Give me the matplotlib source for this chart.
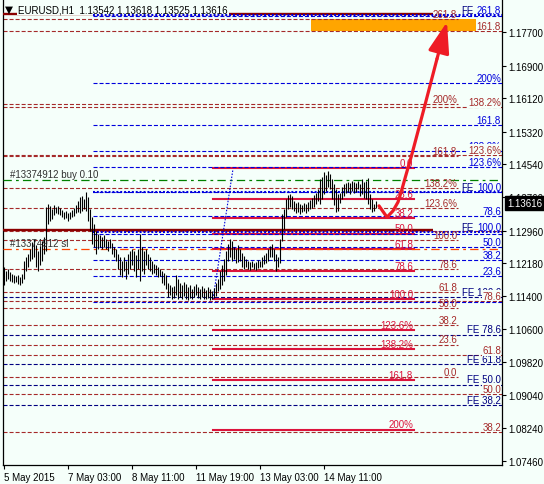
import matplotlib
matplotlib.use("Agg")
import matplotlib.pyplot as plt
from matplotlib.patches import Rectangle, FancyArrowPatch
from matplotlib.transforms import blended_transform_factory

plt.rcParams["font.family"] = ["Liberation Sans", "DejaVu Sans"]
plt.rcParams["font.size"] = 7
plt.rcParams["lines.scale_dashes"] = False

# ---- data ----
symbol = "EURUSD,H1"
last_ohlc = [1.13542, 1.13618, 1.13525, 1.13616]
order_id = "#13374912"

high = [
    1.1209, 1.1200, 1.1204, 1.1197, 1.1192, 1.1190, 1.1188, 1.1190, 1.1185, 1.1192,
    1.1223, 1.1233, 1.1240, 1.1252, 1.1269, 1.1276, 1.1262, 1.1247, 1.1259, 1.1271,
    1.1281, 1.1352, 1.1359, 1.1355, 1.1348, 1.1357, 1.1352, 1.1355, 1.1350, 1.1345,
    1.1340, 1.1343, 1.1338, 1.1340, 1.1345, 1.1350, 1.1357, 1.1367, 1.1376, 1.1379,
    1.1371, 1.1388, 1.1376, 1.1348, 1.1328, 1.1312, 1.1295, 1.1288, 1.1285, 1.1281,
    1.1285, 1.1276, 1.1271, 1.1276, 1.1266, 1.1257, 1.1252, 1.1240, 1.1233, 1.1223,
    1.1233, 1.1223, 1.1240, 1.1247, 1.1252, 1.1247, 1.1238, 1.1252, 1.1288, 1.1257,
    1.1247, 1.1252, 1.1240, 1.1233, 1.1223, 1.1216, 1.1214, 1.1209, 1.1204, 1.1200,
    1.1195, 1.1190, 1.1171, 1.1166, 1.1161, 1.1164, 1.1190, 1.1180, 1.1171, 1.1166,
    1.1173, 1.1169, 1.1161, 1.1166, 1.1157, 1.1164, 1.1169, 1.1161, 1.1157, 1.1164,
    1.1159, 1.1154, 1.1161, 1.1157, 1.1152, 1.1159, 1.1171, 1.1180, 1.1200, 1.1214,
    1.1228, 1.1247, 1.1264, 1.1276, 1.1271, 1.1257, 1.1252, 1.1262, 1.1252, 1.1243,
    1.1235, 1.1228, 1.1223, 1.1221, 1.1223, 1.1219, 1.1221, 1.1226, 1.1223, 1.1233,
    1.1238, 1.1243, 1.1252, 1.1259, 1.1264, 1.1252, 1.1240, 1.1233, 1.1276, 1.1336,
    1.1348, 1.1371, 1.1381, 1.1383, 1.1379, 1.1367, 1.1362, 1.1364, 1.1359, 1.1357,
    1.1362, 1.1359, 1.1364, 1.1369, 1.1374, 1.1381, 1.1386, 1.1395, 1.1419, 1.1424,
    1.1436, 1.1429, 1.1438, 1.1431, 1.1419, 1.1407, 1.1395, 1.1383, 1.1386, 1.1400,
    1.1407, 1.1410, 1.1412, 1.1410, 1.1414, 1.1412, 1.1410, 1.1414, 1.1407, 1.1419,
    1.1412, 1.1414, 1.1422, 1.1383, 1.1371, 1.1359, 1.1367,
]
low = [
    1.1166, 1.1176, 1.1180, 1.1176, 1.1173, 1.1171, 1.1173, 1.1169, 1.1166, 1.1171,
    1.1180, 1.1200, 1.1209, 1.1223, 1.1228, 1.1233, 1.1209, 1.1200, 1.1214, 1.1223,
    1.1240, 1.1247, 1.1312, 1.1319, 1.1324, 1.1333, 1.1338, 1.1336, 1.1333, 1.1328,
    1.1324, 1.1326, 1.1319, 1.1324, 1.1328, 1.1331, 1.1338, 1.1340, 1.1338, 1.1343,
    1.1348, 1.1343, 1.1319, 1.1295, 1.1264, 1.1257, 1.1240, 1.1252, 1.1257, 1.1252,
    1.1257, 1.1252, 1.1247, 1.1254, 1.1240, 1.1233, 1.1223, 1.1204, 1.1190, 1.1185,
    1.1200, 1.1180, 1.1192, 1.1204, 1.1214, 1.1200, 1.1185, 1.1204, 1.1176, 1.1200,
    1.1192, 1.1214, 1.1204, 1.1200, 1.1192, 1.1195, 1.1190, 1.1185, 1.1188, 1.1171,
    1.1166, 1.1157, 1.1138, 1.1142, 1.1133, 1.1135, 1.1142, 1.1133, 1.1138, 1.1133,
    1.1140, 1.1133, 1.1130, 1.1135, 1.1133, 1.1138, 1.1142, 1.1135, 1.1133, 1.1138,
    1.1133, 1.1133, 1.1135, 1.1130, 1.1133, 1.1135, 1.1140, 1.1152, 1.1157, 1.1166,
    1.1176, 1.1190, 1.1223, 1.1233, 1.1223, 1.1228, 1.1219, 1.1221, 1.1223, 1.1209,
    1.1204, 1.1209, 1.1204, 1.1202, 1.1209, 1.1204, 1.1202, 1.1207, 1.1209, 1.1209,
    1.1216, 1.1219, 1.1223, 1.1233, 1.1233, 1.1223, 1.1200, 1.1209, 1.1219, 1.1271,
    1.1300, 1.1328, 1.1348, 1.1352, 1.1348, 1.1343, 1.1338, 1.1340, 1.1336, 1.1340,
    1.1343, 1.1338, 1.1343, 1.1348, 1.1350, 1.1352, 1.1359, 1.1367, 1.1359, 1.1371,
    1.1383, 1.1391, 1.1400, 1.1395, 1.1371, 1.1357, 1.1340, 1.1343, 1.1362, 1.1371,
    1.1379, 1.1386, 1.1388, 1.1383, 1.1391, 1.1386, 1.1388, 1.1395, 1.1379, 1.1383,
    1.1374, 1.1371, 1.1359, 1.1348, 1.1340, 1.1343, 1.1350,
]

date_labels = ["5 May 2015", "7 May 03:00", "8 May 11:00", "11 May 19:00", "13 May 03:00", "14 May 11:00"]
date_bars = [0, 32, 64, 96, 128, 160]
price_ticks = [1.17700, 1.16900, 1.16120, 1.15320, 1.14540, 1.13760, 1.12960,
               1.12180, 1.11400, 1.10600, 1.09820, 1.09040, 1.08240, 1.07460]

fib_ratios = [0, 23.6, 38.2, 50, 61.8, 78.6, 100, 123.6, 138.2, 161.8, 200, 261.8]
fib_names = ["0.0", "23.6", "38.2", "50.0", "61.8", "78.6", "100.0", "123.6%", "138.2%", "161.8", "200%", "261.8"]

# 0% and 100% anchor prices of each fibo object
red_fib = [1.1445, 1.1133]
brown_fib = [1.0947, 1.1273]
brown_fib2 = [1.0519, 1.1294]
blue_fib = [1.1126, 1.1387]
fe_low = [1.0720, 1.1137]
fe_ratios = [38.2, 50, 61.8, 78.6, 100]
fe_100 = [1.1811, 1.1388, 1.1293]
fe_100_values = ["", "", "100.0"]   # numbers hidden under the blue fibo labels
support = [1.1813, 1.1297]
buy_price = 1.1417
sl_price = 1.1252
target_zone = [1.1772, 1.1801]

fe_trend_x = [104.5, 114.5]
fe_trend_y = [1.1133, 1.1443]
arrow_x = [187.5, 191.5, 194.5, 197, 199, 201, 204, 210.5, 216.5]
arrow_y = [1.1355, 1.1328, 1.1343, 1.1364, 1.1395, 1.1429, 1.1479, 1.1596, 1.1706]
arrow_tip = [221.5, 1.1794]

# ---- colours / styles ----
BG = "#F5FFFA"
BROWN = "#A52A2A"
BLUE = "#0000DD"
NAVY = "#000080"
CRIMSON = "#DC143C"
DASH = (0, (2.9, 1.45))

fig = plt.figure(figsize=(5.44, 4.85), dpi=100, facecolor=BG)
ax = fig.add_axes([3 / 544, 19 / 485, 499 / 544, 465 / 485], facecolor=BG)
ax.set_xlim(-0.5, 249)
ax.set_ylim(1.07364, 1.18464)


def level(anchor, ratio):
    return anchor[0] + ratio / 100 * (anchor[1] - anchor[0])


def draw_levels(prices, names, x0, x1, color, ls, lw, tcolor, z=2, box=False):
    for p, name in zip(prices, names):
        ax.plot([x0, x1], [p, p], color=color, ls=ls, lw=lw, zorder=z)
        if name:
            kw = {}
            if box:
                kw["bbox"] = dict(boxstyle="square,pad=0.05", fc=BG, ec="none")
            ax.annotate(name, xy=(x1 - 0.5, p), xytext=(0, 1.5), textcoords="offset points",
                        ha="right", va="baseline", color=tcolor, fontsize=7, zorder=8 if box else 7, **kw)


# target zone
ax.add_patch(Rectangle((153.5, target_zone[0]), 236 - 153.5, target_zone[1] - target_zone[0],
                       fc="#FFA500", ec="none", zorder=1))

# thick dark red horizontal lines
for p in support:
    ax.plot([-0.5, 214.5], [p, p], color="#8B0000", lw=1.7, zorder=3, solid_capstyle="butt")

# brown fibo (left anchor off-screen), labels at x=457
draw_levels([level(brown_fib, r) for r in fib_ratios], fib_names, -0.5, 227, BROWN, DASH, 0.8, BROWN)

# second brown fibo to the right edge
b2 = [38.2, 50, 61.8, 78.6, 100, 123.6, 138.2, 161.8]
b2_names = ["38.2", "50.0", "61.8", "78.6", "", "123.6%", "138.2%", "161.8"]
draw_levels([level(brown_fib2, r) for r in b2], b2_names, -0.5, 249, BROWN, DASH, 0.8, BROWN, box=True)

# lower fibo expansion
draw_levels([level(fe_low, r) for r in fe_ratios],
            ["FE %.1f" % r for r in fe_ratios], -0.5, 249, NAVY, DASH, 0.8, NAVY)

# heavy dotted FE 100 lines: "FE" in navy, number in blue
draw_levels(fe_100, fe_100_values, 44.5, 249, BLUE, (0, (1.4, 1.4)), 1.5, BLUE, z=5)
for p in fe_100:
    ax.annotate("FE", xy=(248.5, p), xytext=(-19.5, 1.5), textcoords="offset points",
                ha="right", va="baseline", color=NAVY, fontsize=7, zorder=7)

# blue fibo
blue_names = ["" if n in ("0.0", "61.8") else n for n in fib_names]
draw_levels([level(blue_fib, r) for r in fib_ratios], blue_names, 44.5, 249, BLUE, DASH, 0.8, BLUE, z=5)

# red fibo (solid)
draw_levels([level(red_fib, r) for r in fib_ratios[:-1]], fib_names[:-1], 104.5, 205,
            CRIMSON, "-", 1.5, CRIMSON, z=4)

# order lines
ax.plot([-0.5, 249], [buy_price, buy_price], color="#008000", ls=(0, (6, 3, 2, 3)), lw=0.9, zorder=4)
ax.plot([-0.5, 249], [sl_price, sl_price], color="#FF4500", ls=(0, (6, 3, 2, 3)), lw=0.9, zorder=4)
ax.annotate(order_id + " buy 0.10", xy=(3, buy_price), xytext=(0, 2), textcoords="offset points",
            va="baseline", color="#303030", zorder=7)
ax.annotate(order_id + " sl", xy=(3, sl_price), xytext=(0, 2), textcoords="offset points",
            va="baseline", color="#303030", zorder=7)

# fibo expansion trend line
ax.plot(fe_trend_x, fe_trend_y, color=BLUE, ls=(0, (1.1, 1.1)), lw=0.8, zorder=5)

# price bars
ax.vlines(range(len(high)), low, high, color="black", lw=0.8, zorder=6)

# hand-drawn arrow
ax.plot(arrow_x, arrow_y, color="#EE1C25", lw=2.3, zorder=9, solid_capstyle="round",
        solid_joinstyle="round")
ax.add_patch(FancyArrowPatch((arrow_x[-1], arrow_y[-1]), tuple(arrow_tip),
                             arrowstyle="-|>,head_length=19,head_width=6.5", color="#EE1C25",
                             lw=2.3, shrinkA=0, shrinkB=0, zorder=9))

# header
ax.text(0.004, 0.974, "\u25bc", transform=ax.transAxes, fontsize=7.5, family="DejaVu Sans",
        va="baseline", color="black", zorder=9)
ax.text(0.030, 0.974, symbol + "  " + " ".join("%.5f" % v for v in last_ohlc),
        transform=ax.transAxes, va="baseline", color="black", zorder=4,
        bbox=dict(boxstyle="square,pad=0.1", fc=BG, ec="none"))

# axes
for side in ("left", "right", "bottom"):
    ax.spines[side].set_color("black")
    ax.spines[side].set_linewidth(0.9)
ax.spines["top"].set_visible(False)
ax.yaxis.tick_right()
ax.set_yticks(price_ticks)
ax.set_yticklabels(["%.5f" % p for p in price_ticks])
ax.tick_params(axis="y", direction="out", length=3, width=0.8, pad=1.5, labelsize=7)
ax.set_xticks(date_bars)
ax.set_xticklabels(date_labels, ha="left")
ax.tick_params(axis="x", direction="out", length=3, width=0.8, pad=2, labelsize=7)

# current price tag
trans = blended_transform_factory(ax.transAxes, ax.transData)
ax.annotate("%.5f" % last_ohlc[3], xy=(1, last_ohlc[3]), xycoords=trans, xytext=(3.5, 0),
            textcoords="offset points", ha="left", va="center", color="white", fontsize=7,
            annotation_clip=False, zorder=10,
            bbox=dict(boxstyle="square,pad=0.2", fc="black", ec="black"))

fig.savefig("out.png", dpi=100, facecolor=BG)
